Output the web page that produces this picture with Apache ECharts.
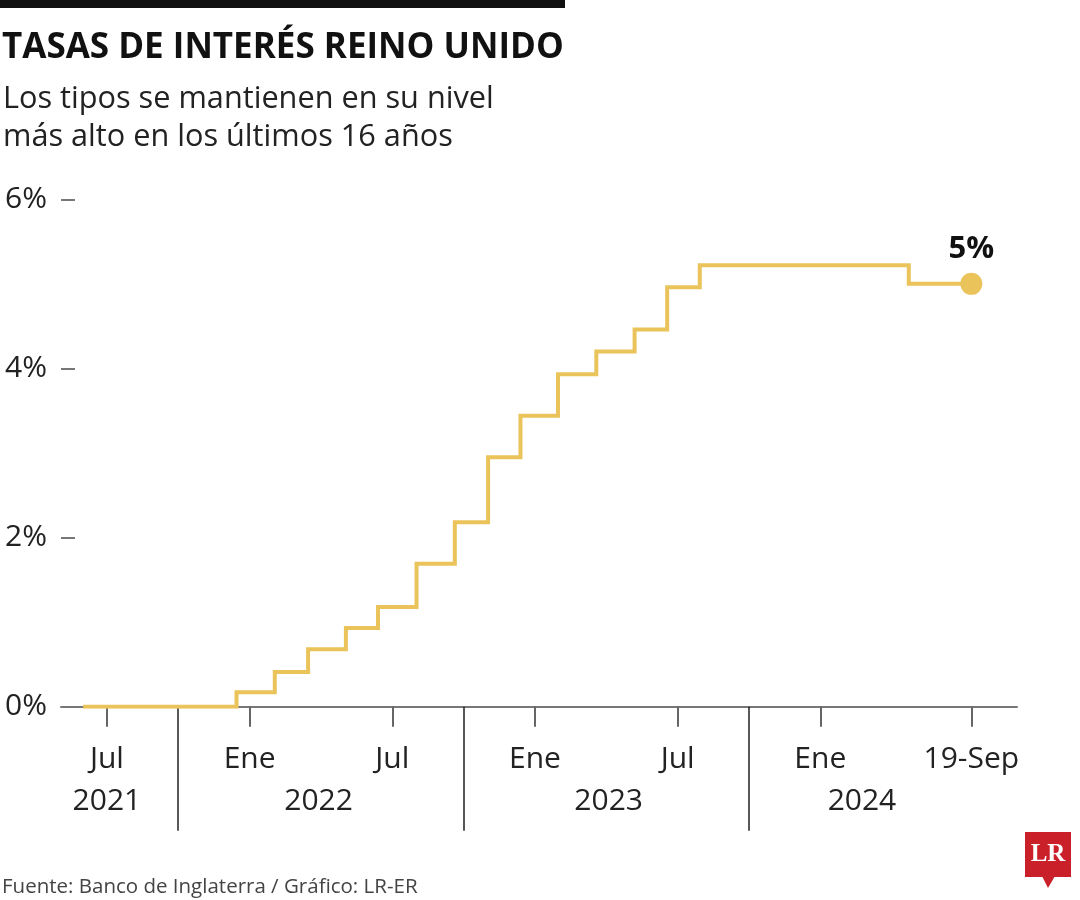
<!DOCTYPE html>
<html>
<head>
<meta charset="utf-8">
<script src="https://cdn.jsdelivr.net/npm/echarts@6/dist/echarts.min.js"></script>
<style>
  html, body { margin: 0; padding: 0; background: #fff; }
  #chart { width: 1080px; height: 900px; }
</style>
</head>
<body>
<div id="chart"></div>
<script>
// x values are months counted from January 2021 (0 = Ene 2021), as placed in the graphic
const stepMonths = [5.0, 11.45, 13.06, 14.46, 16.05, 17.40, 19.02, 20.63, 22.03, 23.39, 24.97, 26.58, 28.19, 29.56, 30.93, 39.72, 42.35];
const rates      = [0,   0.17,  0.41,  0.68,  0.93,  1.18,  1.69,  2.18,  2.95,  3.44,  3.93,  4.20,  4.46,  4.96,  5.22,  5.0,   5.0];

const monthTicks  = [6, 12, 18, 24, 30, 36, 42.35];
const monthLabels = ['Jul', 'Ene', 'Jul', 'Ene', 'Jul', 'Ene', '19-Sep'];
const yearPositions = [6, 14.9, 27.1, 37.75];
const yearLabels    = ['2021', '2022', '2023', '2024'];
const yearSeparators = [9, 21, 33];

const lastLabel = '5%';
const titleText = 'TASAS DE INTERÉS REINO UNIDO';
const subtitleText = 'Los tipos se mantienen en su nivel\nmás alto en los últimos 16 años';
const sourceText = 'Fuente: Banco de Inglaterra / Gráfico: LR-ER';

const GOLD = '#EAC35B';
const FONT = "'Open Sans', 'Noto Sans', sans-serif";

function lookup(values, labels, v) {
  for (let i = 0; i < values.length; i++) {
    if (Math.abs(values[i] - v) < 0.01) return labels[i];
  }
  return '';
}

const chart = echarts.init(document.getElementById('chart'), null, { renderer: 'canvas' });

const lineData = stepMonths.map((m, i) => [m, rates[i]]);
const lastPoint = [stepMonths[stepMonths.length - 1], rates[rates.length - 1]];

chart.setOption({
  animation: false,
  backgroundColor: '#ffffff',
  title: [
    {
      text: titleText, left: 2, top: 26, padding: 0,
      textStyle: { fontFamily: FONT, fontWeight: 'bold', fontSize: 35, color: '#111', lineHeight: 44 }
    },
    {
      text: subtitleText, left: 3, top: 80, padding: 0,
      textStyle: { fontFamily: FONT, fontWeight: 'normal', fontSize: 30.7, color: '#222', lineHeight: 38 }
    },
    {
      text: sourceText, left: 2, top: 875, padding: 0,
      textStyle: { fontFamily: FONT, fontWeight: 'normal', fontSize: 20.5, color: '#444', lineHeight: 24 }
    }
  ],
  grid: { left: 61, right: 63, top: 199.3, bottom: 193.3, containLabel: false },
  xAxis: [
    {
      type: 'value', min: 4.07, max: 44.27, position: 'bottom',
      splitLine: { show: false },
      axisLine: { show: true, lineStyle: { color: '#777', width: 2 } },
      axisTick: { show: true, customValues: monthTicks, length: 20, inside: false, lineStyle: { color: '#666', width: 2 } },
      axisLabel: {
        customValues: monthTicks, margin: 38,
        fontFamily: FONT, fontSize: 30, lineHeight: 30, color: '#222',
        formatter: v => lookup(monthTicks, monthLabels, v)
      }
    },
    {
      type: 'value', min: 4.07, max: 44.27, position: 'bottom',
      splitLine: { show: false },
      axisLine: { show: false },
      axisTick: { show: true, customValues: yearSeparators, length: 124, inside: false, lineStyle: { color: '#222', width: 1.5 } },
      axisLabel: {
        customValues: yearPositions, margin: 80,
        fontFamily: FONT, fontSize: 30, lineHeight: 30, color: '#222',
        formatter: v => lookup(yearPositions, yearLabels, v)
      }
    }
  ],
  yAxis: {
    type: 'value', min: 0, max: 6, interval: 2,
    splitLine: { show: false },
    axisLine: { show: false },
    axisTick: { show: true, inside: true, length: 14, lineStyle: { color: '#777', width: 2 } },
    axisLabel: {
      margin: 14, fontFamily: FONT, fontSize: 30, color: '#222',
      formatter: v => v + '%'
    }
  },
  series: [
    {
      type: 'line', step: 'end', data: lineData, xAxisIndex: 0,
      showSymbol: false, symbol: 'none', silent: true, z: 5,
      lineStyle: { color: GOLD, width: 4, cap: 'butt', join: 'miter' }
    },
    {
      type: 'scatter', data: [lastPoint], xAxisIndex: 0,
      symbol: 'circle', symbolSize: 22, silent: true, z: 6,
      itemStyle: { color: GOLD, opacity: 1 },
      label: {
        show: true, position: 'top', distance: 8,
        formatter: () => lastLabel,
        fontFamily: FONT, fontWeight: 'bold', fontSize: 31, color: '#111'
      }
    }
  ],
  graphic: [
    { type: 'rect', left: 0, top: 0, shape: { width: 565, height: 8 }, style: { fill: '#111' } },
    {
      type: 'group', left: 1025, top: 832,
      children: [
        { type: 'rect', shape: { x: 0, y: 0, width: 46, height: 45 }, style: { fill: '#C9202A' } },
        { type: 'polygon', shape: { points: [[17, 44], [30, 44], [23, 56]] }, style: { fill: '#C9202A' } },
        { type: 'text', style: { x: 23, y: 23, text: 'LR', fill: '#fff', font: "bold 25px 'Liberation Serif', 'DejaVu Serif', serif", textAlign: 'center', textVerticalAlign: 'middle' } }
      ]
    }
  ]
});
</script>
</body>
</html>
